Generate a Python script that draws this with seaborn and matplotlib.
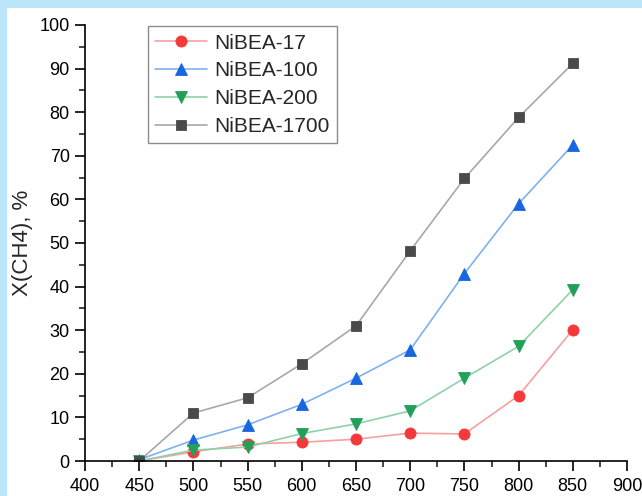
import matplotlib
matplotlib.use("Agg")
import matplotlib.pyplot as plt
from matplotlib.patches import Rectangle
from matplotlib.ticker import MultipleLocator
import seaborn as sns
import pandas as pd

# Reaction temperature, °C
temperature = [450, 500, 550, 600, 650, 700, 750, 800, 850]

# Methane conversion X(CH4), %
nibea_17 = [0.0, 2.1, 3.9, 4.3, 5.0, 6.4, 6.2, 15.0, 30.1]
nibea_100 = [0.3, 4.8, 8.3, 13.0, 19.0, 25.5, 43.0, 59.0, 72.5]
nibea_200 = [0.0, 2.5, 3.2, 6.3, 8.5, 11.5, 19.0, 26.3, 39.3]
nibea_1700 = [0.0, 11.0, 14.5, 22.3, 31.0, 48.2, 64.8, 78.8, 91.2]

labels = ["NiBEA-17", "NiBEA-100", "NiBEA-200", "NiBEA-1700"]

sns.set_theme(style="ticks")
plt.rcParams["font.family"] = ["Liberation Sans", "DejaVu Sans"]

fig = plt.figure(figsize=(6.42, 4.96), dpi=100)
fig.patch.set_facecolor("#bbe5f9")
# white panel inside the light-blue frame
fig.add_artist(Rectangle((7 / 642, 0), 1, 1 - 8 / 496, transform=fig.transFigure,
                         facecolor="white", edgecolor="none", zorder=0))

ax = fig.add_axes([85 / 642, 1 - 461 / 496, 542 / 642, 436 / 496])
ax.set_facecolor("white")

series = [
    (nibea_17, "o", "#f5383a", "#f7a0a0", 8.0),
    (nibea_100, "^", "#1866e0", "#7fb0f0", 8.5),
    (nibea_200, "v", "#22a05a", "#8ed2a8", 8.5),
    (nibea_1700, "s", "#4a4a4a", "#a8a8a8", 6.8),
]

for label, (values, marker, mcol, lcol, ms) in zip(labels, series):
    df = pd.DataFrame({"T": temperature, "X": values})
    sns.lineplot(data=df, x="T", y="X", ax=ax, color=lcol, linewidth=1.2,
                 marker=marker, markersize=ms, markerfacecolor=mcol,
                 markeredgecolor=mcol, markeredgewidth=0.6, label=label)

ax.set_xlim(400, 900)
ax.set_ylim(0, 100)
ax.xaxis.set_major_locator(MultipleLocator(50))
ax.xaxis.set_minor_locator(MultipleLocator(25))
ax.yaxis.set_major_locator(MultipleLocator(10))
ax.yaxis.set_minor_locator(MultipleLocator(5))
ax.tick_params(axis="both", which="major", direction="out", length=7, width=1.2,
               labelsize=13, colors="black")
ax.tick_params(axis="y", which="major", pad=4)
ax.tick_params(axis="x", which="major", pad=5)
ax.tick_params(axis="both", which="minor", direction="out", length=4, width=1.2)
for side in ["left", "bottom"]:
    ax.spines[side].set_linewidth(1.2)
    ax.spines[side].set_color("black")
sns.despine(ax=ax)

ax.set_xlabel("")
ax.set_ylabel("X(CH4), %", fontsize=16, labelpad=5)

leg = ax.legend(loc="upper left", bbox_to_anchor=(0.116, 0.997), fontsize=15,
                frameon=True, fancybox=False, edgecolor="#8c8c8c", framealpha=1,
                handlelength=2.5, labelspacing=0.42, borderpad=0.35,
                handletextpad=0.35, borderaxespad=0)
leg.get_frame().set_linewidth(1.0)

fig.savefig("out.png", dpi=100, facecolor=fig.get_facecolor())
